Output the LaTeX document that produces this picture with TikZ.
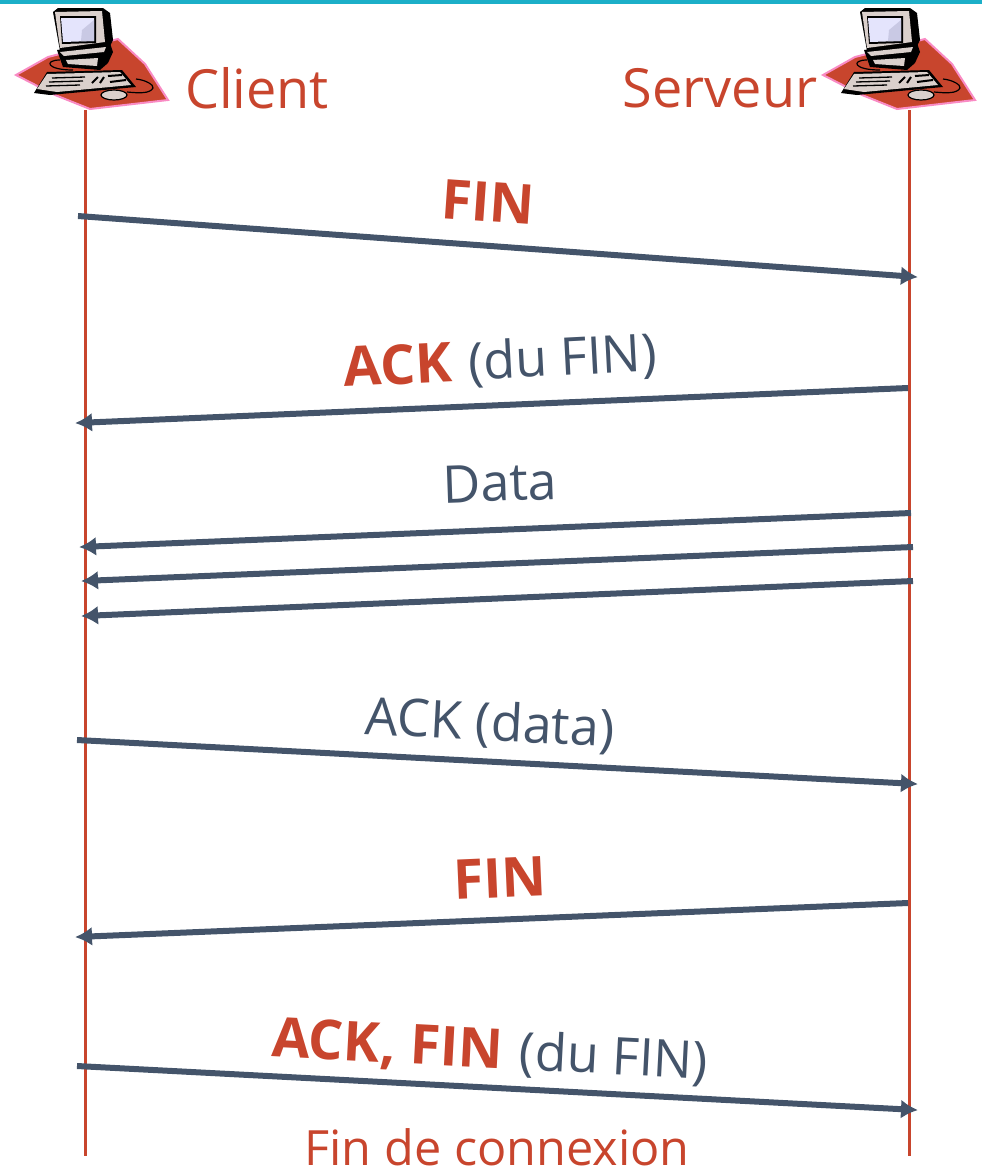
\documentclass[tikz,border=0pt]{standalone}
\usepackage{fontspec}
\setmainfont{Open Sans}
\usetikzlibrary{arrows.meta}
\definecolor{brick}{HTML}{C8452D}
\definecolor{slate}{HTML}{44546A}
\definecolor{teal}{HTML}{1CAFC8}
\definecolor{rim}{HTML}{F98BC4}
\definecolor{case}{HTML}{DAD0CC}
\definecolor{screen}{HTML}{E4E4FC}
\definecolor{wedge}{HTML}{C9C9E4}
\newcommand{\hotpart}[1]{{\color{brick}\fontsize{55pt}{55pt}\selectfont\bfseries #1}\hspace{3pt}}
\tikzset{
  lifeline/.style={draw=brick,line width=3pt},
  msg/.style={draw=slate,line width=6pt,-{Latex[length=17pt,width=19pt]},shorten >=-1pt},
  lab/.style={text=slate,font=\fontsize{52pt}{52pt}\selectfont,inner sep=0pt},
  hot/.style={text=brick,font=\fontsize{55pt}{55pt}\selectfont\bfseries,inner sep=0pt},
  title/.style={text=brick,font=\fontsize{54pt}{54pt}\selectfont,inner sep=0pt},
  computer/.pic={
    \path[fill=brick,draw=rim,line width=2pt]
      (16,75) -- (48,57) -- (118,39) -- (145,64) -- (168,100) -- (90,109) -- (55,95) -- cycle;
    \draw[black,line width=1.2pt] (60,60) .. controls (44,60) and (46,70) .. (73,70);
    \draw[black,line width=1.2pt] (136,79) .. controls (146,80) and (154,85) .. (153,88) .. controls (150,94) and (138,93) .. (127,92);
    \path[fill=black] (53,12) -- (58,8) -- (103,8) -- (110,13) -- (113,40) -- (110,46) -- (60,51) -- cycle;
    \path[fill=case] (55,12) -- (102,11) -- (105,42) -- (60,48) -- cycle;
    \path[fill=black] (60,16) -- (96,16) -- (96,43) -- (62,44) -- cycle;
    \path[fill=screen] (61,18) -- (94,18) -- (94,41) -- (63,42) -- cycle;
    \path[fill=wedge] (94,20) -- (82,30) -- (81,41) -- (94,41) -- cycle;
    \path[fill=black] (57,50) -- (110,43) -- (113,52) -- (108,63) -- (100,70) -- (63,67) -- cycle;
    \path[fill=case] (60,52) -- (106,47) -- (104,52) -- (64,56) -- cycle;
    \path[fill=case] (66,60) -- (98,58) -- (97,66) -- (68,64) -- cycle;
    \path[fill=black] (34,93) -- (47,72) -- (122,70) -- (136,87) -- (50,95) -- cycle;
    \path[fill=case] (37,89) -- (47,74) -- (120,72) -- (131,85) -- (57,92) -- cycle;
    \draw[black,line width=1.3pt] (52,78) -- (85,77) (49,82) -- (83,81) (46,86) -- (80,85);
    \draw[black,line width=2pt] (92,83) -- (98,77) (100,83) -- (104,77) (108,76) -- (122,75) (110,82) -- (126,80);
    \draw[fill=case,draw=black,line width=1.2pt] (114,95) ellipse (13pt and 5pt);
  }
}
\begin{document}
\begin{tikzpicture}[x=1pt,y=-1pt]
\useasboundingbox (0,0) rectangle (982,1168);
\path[fill=teal] (0,0) rectangle (982,4);

\draw[lifeline] (85,110) coordinate (clienttop) -- (85,1156) coordinate (clientbot);
\draw[lifeline] (909,110) coordinate (servertop) -- (909,1156) coordinate (serverbot);

\pic at (0,0) {computer};
\pic at (807,0) {computer};

\node[title] (client) at (257,88) {Client};
\node[title] (serveur) at (720,88) {Serveur};

\coordinate (a1) at (78,216);   \coordinate (b1) at (917,277);
\coordinate (a2) at (908,388);  \coordinate (b2) at (76,423);
\coordinate (a3) at (911,513);  \coordinate (b3) at (80,547);
\coordinate (a4) at (913,547);  \coordinate (b4) at (82,581);
\coordinate (a5) at (913,581);  \coordinate (b5) at (82,616);
\coordinate (a6) at (77,740);   \coordinate (b6) at (917,784);
\coordinate (a7) at (908,903);  \coordinate (b7) at (76,937);
\coordinate (a8) at (77,1066);  \coordinate (b8) at (917,1110);

\draw[msg] (a1) -- (b1);
\draw[msg] (a2) -- (b2);
\draw[msg] (a3) -- (b3);
\draw[msg] (a4) -- (b4);
\draw[msg] (a5) -- (b5);
\draw[msg] (a6) -- (b6);
\draw[msg] (a7) -- (b7);
\draw[msg] (a8) -- (b8);

\node[hot,rotate=-4] (fin1) at (488,202) {FIN};
\node[lab,rotate=3] (ack1) at (500,363) {\hotpart{ACK} (du FIN)};
\node[lab,rotate=2] (data) at (500,483) {Data};
\node[lab,rotate=-3] (ack2) at (490,725) {ACK (data)};
\node[hot,rotate=2.5] (fin2) at (500,878) {FIN};
\node[lab,rotate=-3] (ack3) at (490,1052) {\hotpart{ACK, FIN} (du FIN)};
\node[title,font=\fontsize{48.6pt}{48.6pt}\selectfont,anchor=base] (fin3) at (497,1165) {Fin de connexion};
\end{tikzpicture}
\end{document}
